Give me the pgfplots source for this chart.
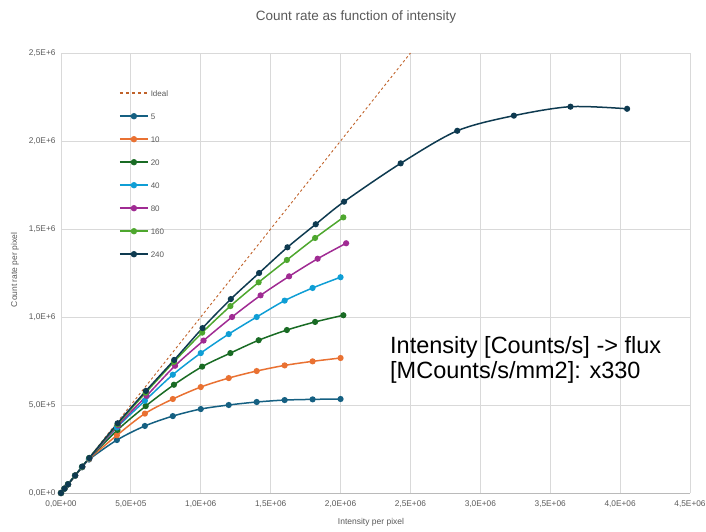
\documentclass[border=0pt]{standalone}
\usepackage{pgfplots}
\pgfplotsset{compat=1.18}
\usepackage{fontspec}
\setmainfont{Liberation Sans}
\definecolor{c5}{HTML}{156082}
\definecolor{c10}{HTML}{E97132}
\definecolor{c20}{HTML}{196B24}
\definecolor{c40}{HTML}{0F9ED5}
\definecolor{c80}{HTML}{A02B93}
\definecolor{c160}{HTML}{4EA72E}
\definecolor{c240}{HTML}{0E3A50}
\definecolor{cideal}{HTML}{C0622A}
\definecolor{txt}{HTML}{595959}
\definecolor{grd}{HTML}{D9D9D9}
\begin{document}
\begin{tikzpicture}
\path[use as bounding box] (0pt,0pt) rectangle (706pt,532pt);
\begin{axis}[
  at={(61pt,39pt)}, anchor=south west,
  scale only axis, width=629pt, height=440pt,
  xmin=0, xmax=4.5e6, ymin=0, ymax=2.5e6,
  axis lines*=left,
  axis line style={-},
  x axis line style={draw=black!27, line width=0.8pt},
  y axis line style={draw=grd, line width=0.8pt},
  major tick length=0pt,
  grid=major,
  major grid style={draw=grd, line width=0.8pt},
  xtick={0,5e5,1e6,1.5e6,2e6,2.5e6,3e6,3.5e6,4e6,4.5e6},
  xticklabels={0{,}0E+00,5{,}0E+05,1{,}0E+06,1{,}5E+06,2{,}0E+06,2{,}5E+06,3{,}0E+06,3{,}5E+06,4{,}0E+06,4{,}5E+06},
  ytick={0,5e5,1e6,1.5e6,2e6,2.5e6},
  yticklabels={0{,}0E+0,5{,}0E+5,1{,}0E+6,1{,}5E+6,2{,}0E+6,2{,}5E+6},
  scaled ticks=false,
  xticklabel style={font=\fontsize{8.3}{10}\selectfont, text=txt, yshift=-4.5pt},
  yticklabel style={font=\fontsize{8.3}{10}\selectfont, text=txt, xshift=-2pt},
  legend style={at={(axis description cs:0.092,0.92045)}, anchor=north west, draw=none, fill=none,
    font=\fontsize{8}{9}\selectfont, text=txt, row sep=13pt, inner sep=0pt,
    nodes={text height=6pt, text depth=0pt}},
  legend cell align=left,
  legend image code/.code={\draw[line width=1.7pt, mark repeat=2,mark phase=2] plot coordinates {(0pt,0pt) (14pt,0pt) (28pt,0pt)};},
  every axis plot/.append style={line width=1.5pt, smooth, mark=*, mark size=2.3pt, mark options={solid}},
]
\addplot[cideal, line width=0.9pt, dash pattern=on 2.5pt off 2.5pt, no markers, sharp plot,
  legend image code/.code={\draw[cideal, line width=1.4pt, dash pattern=on 3.5pt off 2.5pt] (0pt,0pt) -- (28pt,0pt);}]
  coordinates {(0,0) (2.5e6,2.5e6)};
\addlegendentry{Ideal}
\addplot[c5, mark options={fill=c5}] coordinates {(0,0) (2.5e4,25e3) (5e4,48e3) (1e5,97e3) (1.5e5,146e3) (2e5,190e3) (4e5,301e3) (6e5,381e3) (8e5,437e3) (1e6,477e3) (1.2e6,500e3) (1.4e6,517e3) (1.6e6,528e3) (1.8e6,532e3) (2e6,534e3)};
\addlegendentry{5}
\addplot[c10, mark options={fill=c10}] coordinates {(0,0) (2.5e4,25e3) (5e4,49e3) (1e5,98e3) (1.5e5,147e3) (2e5,193e3) (4e5,328e3) (6e5,451e3) (8e5,534e3) (1e6,602e3) (1.2e6,653e3) (1.4e6,693e3) (1.6e6,725e3) (1.8e6,748e3) (2e6,767e3)};
\addlegendentry{10}
\addplot[c20, mark options={fill=c20}] coordinates {(0,0) (2.5e4,25e3) (5e4,49e3) (1.01e5,99e3) (1.515e5,148e3) (2.02e5,196e3) (4.04e5,358e3) (6.06e5,494e3) (8.08e5,615e3) (1.01e6,718e3) (1.212e6,795e3) (1.414e6,868e3) (1.616e6,926e3) (1.818e6,972e3) (2.02e6,1010e3)};
\addlegendentry{20}
\addplot[c40, mark options={fill=c40}] coordinates {(0,0) (2.5e4,25e3) (5e4,50e3) (1e5,99e3) (1.5e5,148e3) (2e5,196e3) (4e5,372e3) (6e5,524e3) (8e5,672e3) (1e6,795e3) (1.2e6,903e3) (1.4e6,1000e3) (1.6e6,1093e3) (1.8e6,1165e3) (2e6,1226e3)};
\addlegendentry{40}
\addplot[c80, mark options={fill=c80}] coordinates {(0,0) (2.55e4,25e3) (5.1e4,50e3) (1.02e5,100e3) (1.53e5,149e3) (2.04e5,198e3) (4.08e5,384e3) (6.12e5,552e3) (8.16e5,723e3) (1.02e6,866e3) (1.224e6,1000e3) (1.428e6,1123e3) (1.632e6,1231e3) (1.836e6,1331e3) (2.04e6,1419e3)};
\addlegendentry{80}
\addplot[c160, mark options={fill=c160}] coordinates {(0,0) (2.5e4,25e3) (5e4,50e3) (1.01e5,100e3) (1.515e5,149e3) (2.02e5,199e3) (4.04e5,390e3) (6.06e5,570e3) (8.08e5,745e3) (1.01e6,911e3) (1.212e6,1062e3) (1.414e6,1197e3) (1.616e6,1324e3) (1.818e6,1449e3) (2.02e6,1566e3)};
\addlegendentry{160}
\addplot[c240, mark options={fill=c240}] coordinates {(0,0) (2.5e4,25e3) (5.06e4,50e3) (1.0125e5,100e3) (1.519e5,150e3) (2.025e5,199e3) (4.05e5,396e3) (6.075e5,580e3) (8.1e5,756e3) (1.0125e6,937e3) (1.215e6,1102e3) (1.4175e6,1250e3) (1.62e6,1396e3) (1.8225e6,1527e3) (2.025e6,1655e3) (2.43e6,1873e3) (2.835e6,2058e3) (3.24e6,2144e3) (3.645e6,2195e3) (4.05e6,2183e3)};
\addlegendentry{240}
\end{axis}
\node[text=txt, font=\fontsize{13.5}{15}\selectfont] at (356pt,515pt) {Count rate as function of intensity};
\node[text=txt, font=\fontsize{8.5}{10}\selectfont] at (371pt,10pt) {Intensity per pixel};
\node[text=txt, font=\fontsize{8.5}{10}\selectfont, rotate=90] at (15pt,262pt) {Count rate per pixel};
\node[anchor=base west, inner sep=0pt, font=\fontsize{23.5}{26}\selectfont] at (390pt,178pt) {Intensity [Counts/s] -> flux};
\node[anchor=base west, inner sep=0pt, font=\fontsize{23.5}{26}\selectfont] at (390pt,153pt) {[MCounts/s/mm2]: x330};
\end{tikzpicture}
\end{document}
